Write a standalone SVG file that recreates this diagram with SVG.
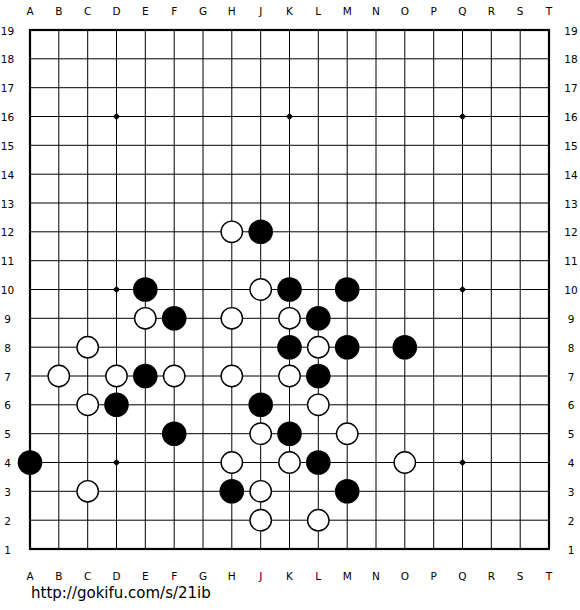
<svg xmlns="http://www.w3.org/2000/svg" width="580" height="610" viewBox="0 0 580 610">
<style>
.lbl{font-family:"DejaVu Sans","Liberation Sans",sans-serif;font-size:10.5px;fill:#000;text-anchor:middle}
.url{font-family:"DejaVu Sans","Liberation Sans",sans-serif;font-size:15px;fill:#000}
.grid{stroke:#000;stroke-width:1;fill:none}
.border{stroke:#000;stroke-width:2.2;fill:none}
.b{fill:#000}
.w{fill:#fff;stroke:#000;stroke-width:1.4}
.hoshi{fill:#000}
</style>
<defs>
<circle id="bs" r="12.3" class="b"/>
<circle id="ws" r="10.7" class="w"/>
<path id="hs" d="M0,-3.6L3.6,0L0,3.6L-3.6,0Z" class="hoshi"/>
</defs>
<rect width="580" height="610" fill="#fff"/>
<g id="board">
<path class="grid" d="M58.8,30V549M87.7,30V549M116.5,30V549M145.3,30V549M174.2,30V549M203,30V549M231.8,30V549M260.7,30V549M289.5,30V549M318.3,30V549M347.2,30V549M376,30V549M404.8,30V549M433.7,30V549M462.5,30V549M491.3,30V549M520.2,30V549M30,58.8H549M30,87.7H549M30,116.5H549M30,145.3H549M30,174.2H549M30,203H549M30,231.8H549M30,260.7H549M30,289.5H549M30,318.3H549M30,347.2H549M30,376H549M30,404.8H549M30,433.7H549M30,462.5H549M30,491.3H549M30,520.2H549"/>
<rect class="border" x="30" y="30" width="519" height="519"/>
</g>
<g id="hoshi">
<use href="#hs" x="116.5" y="116.5"/><use href="#hs" x="289.5" y="116.5"/><use href="#hs" x="462.5" y="116.5"/>
<use href="#hs" x="116.5" y="289.5"/><use href="#hs" x="289.5" y="289.5"/><use href="#hs" x="462.5" y="289.5"/>
<use href="#hs" x="116.5" y="462.5"/><use href="#hs" x="289.5" y="462.5"/><use href="#hs" x="462.5" y="462.5"/>
</g>
<g id="labels-top">
<text class="lbl" x="30" y="15">A</text><text class="lbl" x="58.8" y="15">B</text><text class="lbl" x="87.7" y="15">C</text><text class="lbl" x="116.5" y="15">D</text><text class="lbl" x="145.3" y="15">E</text><text class="lbl" x="174.2" y="15">F</text><text class="lbl" x="203" y="15">G</text><text class="lbl" x="231.8" y="15">H</text><text class="lbl" x="260.7" y="15">J</text><text class="lbl" x="289.5" y="15">K</text><text class="lbl" x="318.3" y="15">L</text><text class="lbl" x="347.2" y="15">M</text><text class="lbl" x="376" y="15">N</text><text class="lbl" x="404.8" y="15">O</text><text class="lbl" x="433.7" y="15">P</text><text class="lbl" x="462.5" y="15">Q</text><text class="lbl" x="491.3" y="15">R</text><text class="lbl" x="520.2" y="15">S</text><text class="lbl" x="549" y="15">T</text>
</g>
<g id="labels-bottom">
<text class="lbl" x="30" y="580">A</text><text class="lbl" x="58.8" y="580">B</text><text class="lbl" x="87.7" y="580">C</text><text class="lbl" x="116.5" y="580">D</text><text class="lbl" x="145.3" y="580">E</text><text class="lbl" x="174.2" y="580">F</text><text class="lbl" x="203" y="580">G</text><text class="lbl" x="231.8" y="580">H</text><text class="lbl" x="260.7" y="580">J</text><text class="lbl" x="289.5" y="580">K</text><text class="lbl" x="318.3" y="580">L</text><text class="lbl" x="347.2" y="580">M</text><text class="lbl" x="376" y="580">N</text><text class="lbl" x="404.8" y="580">O</text><text class="lbl" x="433.7" y="580">P</text><text class="lbl" x="462.5" y="580">Q</text><text class="lbl" x="491.3" y="580">R</text><text class="lbl" x="520.2" y="580">S</text><text class="lbl" x="549" y="580">T</text>
</g>
<g id="labels-left">
<text class="lbl" x="7.5" y="34.5">19</text><text class="lbl" x="7.5" y="63.3">18</text><text class="lbl" x="7.5" y="92.2">17</text><text class="lbl" x="7.5" y="121">16</text><text class="lbl" x="7.5" y="149.8">15</text><text class="lbl" x="7.5" y="178.7">14</text><text class="lbl" x="7.5" y="207.5">13</text><text class="lbl" x="7.5" y="236.3">12</text><text class="lbl" x="7.5" y="265.2">11</text><text class="lbl" x="7.5" y="294">10</text><text class="lbl" x="7.5" y="322.8">9</text><text class="lbl" x="7.5" y="351.7">8</text><text class="lbl" x="7.5" y="380.5">7</text><text class="lbl" x="7.5" y="409.3">6</text><text class="lbl" x="7.5" y="438.2">5</text><text class="lbl" x="7.5" y="467">4</text><text class="lbl" x="7.5" y="495.8">3</text><text class="lbl" x="7.5" y="524.7">2</text><text class="lbl" x="7.5" y="553.5">1</text>
</g>
<g id="labels-right">
<text class="lbl" x="571" y="34.5">19</text><text class="lbl" x="571" y="63.3">18</text><text class="lbl" x="571" y="92.2">17</text><text class="lbl" x="571" y="121">16</text><text class="lbl" x="571" y="149.8">15</text><text class="lbl" x="571" y="178.7">14</text><text class="lbl" x="571" y="207.5">13</text><text class="lbl" x="571" y="236.3">12</text><text class="lbl" x="571" y="265.2">11</text><text class="lbl" x="571" y="294">10</text><text class="lbl" x="571" y="322.8">9</text><text class="lbl" x="571" y="351.7">8</text><text class="lbl" x="571" y="380.5">7</text><text class="lbl" x="571" y="409.3">6</text><text class="lbl" x="571" y="438.2">5</text><text class="lbl" x="571" y="467">4</text><text class="lbl" x="571" y="495.8">3</text><text class="lbl" x="571" y="524.7">2</text><text class="lbl" x="571" y="553.5">1</text>
</g>
<g id="stones-black">
<g id="A4"><use href="#bs" x="30" y="462.5"/></g>
<g id="D6"><use href="#bs" x="116.5" y="404.8"/></g>
<g id="E7"><use href="#bs" x="145.3" y="376"/></g>
<g id="E10"><use href="#bs" x="145.3" y="289.5"/></g>
<g id="F5"><use href="#bs" x="174.2" y="433.7"/></g>
<g id="F9"><use href="#bs" x="174.2" y="318.3"/></g>
<g id="H3"><use href="#bs" x="231.8" y="491.3"/></g>
<g id="J6"><use href="#bs" x="260.7" y="404.8"/></g>
<g id="J12"><use href="#bs" x="260.7" y="231.8"/></g>
<g id="K5"><use href="#bs" x="289.5" y="433.7"/></g>
<g id="K8"><use href="#bs" x="289.5" y="347.2"/></g>
<g id="K10"><use href="#bs" x="289.5" y="289.5"/></g>
<g id="L4"><use href="#bs" x="318.3" y="462.5"/></g>
<g id="L7"><use href="#bs" x="318.3" y="376"/></g>
<g id="L9"><use href="#bs" x="318.3" y="318.3"/></g>
<g id="M3"><use href="#bs" x="347.2" y="491.3"/></g>
<g id="M8"><use href="#bs" x="347.2" y="347.2"/></g>
<g id="M10"><use href="#bs" x="347.2" y="289.5"/></g>
<g id="O8"><use href="#bs" x="404.8" y="347.2"/></g>
</g>
<g id="stones-white">
<g id="B7"><use href="#ws" x="58.8" y="376"/></g>
<g id="C3"><use href="#ws" x="87.7" y="491.3"/></g>
<g id="C6"><use href="#ws" x="87.7" y="404.8"/></g>
<g id="C8"><use href="#ws" x="87.7" y="347.2"/></g>
<g id="D7"><use href="#ws" x="116.5" y="376"/></g>
<g id="E9"><use href="#ws" x="145.3" y="318.3"/></g>
<g id="F7"><use href="#ws" x="174.2" y="376"/></g>
<g id="H4"><use href="#ws" x="231.8" y="462.5"/></g>
<g id="H7"><use href="#ws" x="231.8" y="376"/></g>
<g id="H9"><use href="#ws" x="231.8" y="318.3"/></g>
<g id="H12"><use href="#ws" x="231.8" y="231.8"/></g>
<g id="J2"><use href="#ws" x="260.7" y="520.2"/></g>
<g id="J3"><use href="#ws" x="260.7" y="491.3"/></g>
<g id="J5"><use href="#ws" x="260.7" y="433.7"/></g>
<g id="J10"><use href="#ws" x="260.7" y="289.5"/></g>
<g id="K4"><use href="#ws" x="289.5" y="462.5"/></g>
<g id="K7"><use href="#ws" x="289.5" y="376"/></g>
<g id="K9"><use href="#ws" x="289.5" y="318.3"/></g>
<g id="L2"><use href="#ws" x="318.3" y="520.2"/></g>
<g id="L6"><use href="#ws" x="318.3" y="404.8"/></g>
<g id="L8"><use href="#ws" x="318.3" y="347.2"/></g>
<g id="M5"><use href="#ws" x="347.2" y="433.7"/></g>
<g id="O4"><use href="#ws" x="404.8" y="462.5"/></g>
</g>
<g id="footer">
<text class="url" x="31" y="598">http://gokifu.com/s/21ib</text>
</g>
</svg>
